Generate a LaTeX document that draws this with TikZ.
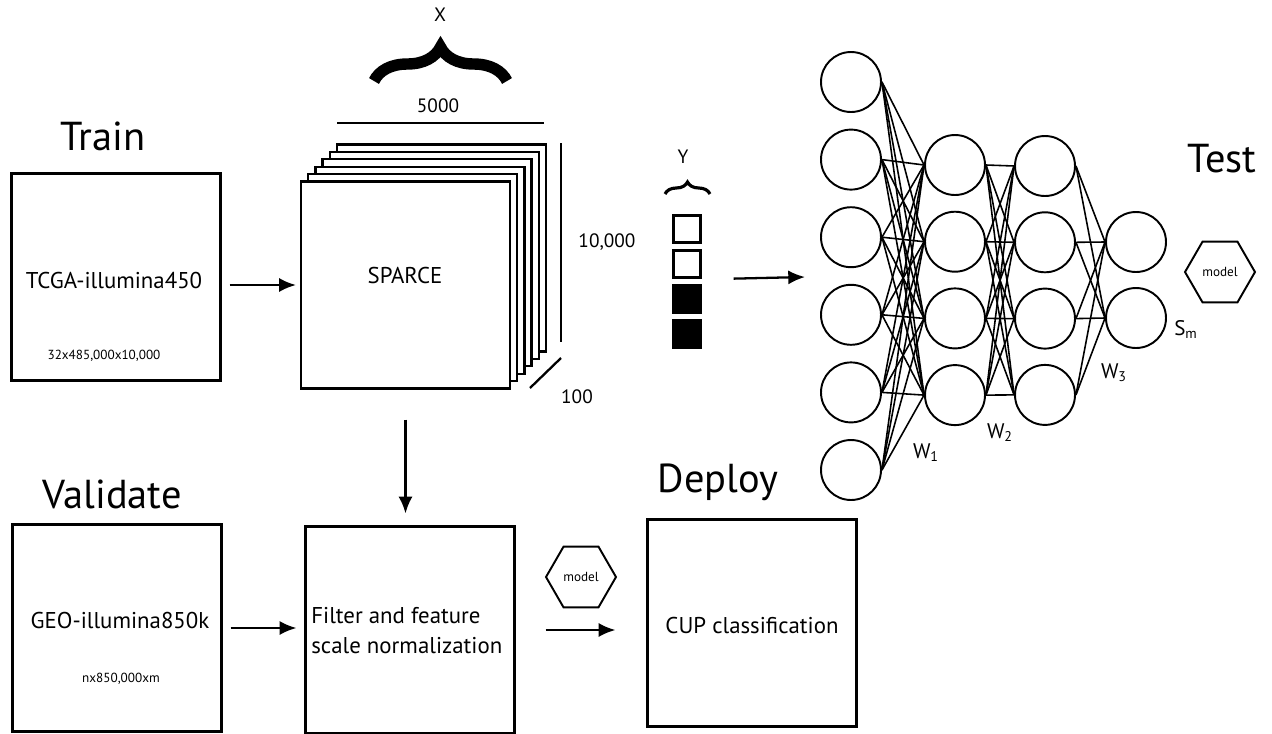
\documentclass[tikz,border=0pt]{standalone}
\usepackage{fontspec}
\setmainfont{PT Sans}
\usetikzlibrary{shapes.geometric,arrows.meta,decorations.pathreplacing}

\begin{document}
\begin{tikzpicture}[
    x=0.02cm, y=-0.02cm,
    box/.style={rectangle, draw, line width=1.3pt, fill=white, minimum width=4.18cm, minimum height=4.14cm, inner sep=0pt},
    neuron/.style={circle, draw, line width=1.1pt, fill=white, minimum size=1.2cm, inner sep=0pt},
    model/.style={regular polygon, regular polygon sides=6, draw, line width=1.1pt, minimum size=1.4cm, inner sep=0pt, font=\fontsize{7.5}{9}\selectfont},
    cell/.style={rectangle, draw, line width=1.3pt, minimum size=0.54cm, inner sep=0pt},
    headtext/.style={anchor=base, font=\fontsize{23}{26}\selectfont},
    boxtext/.style={anchor=base, inner xsep=0pt, font=\fontsize{13}{17}\selectfont},
    sizetext/.style={anchor=base, font=\fontsize{7.5}{9}\selectfont},
    dimtext/.style={anchor=base, font=\fontsize{11}{13}\selectfont},
    wtext/.style={anchor=base, font=\fontsize{12}{14}\selectfont},
    arrow/.style={-{Latex[length=9.5pt,width=8pt]}, line width=1.3pt},
    weight/.style={line width=0.9pt}
  ]
  \useasboundingbox (0,0) rectangle (1272,734);

  % train
  \node[headtext] (train label) at (103,150) {Train};
  \node[box] (train) at (116,277) {};
  \node[boxtext] (tcga) at (114,288) {TCGA-illumina450};
  \node[sizetext] (tcga size) at (104,359) {32x485,000x10,000};

  % stack of sheets
  \foreach \k in {5,...,1}
    \node[box] (sheet\k) at ({405.5+7.2*\k},{285-7.4*\k}) {};
  \node[box] (sparce) at (405.5,285) {};
  \node[boxtext] (sparce label) at (405,283) {SPARCE};
  \draw[line width=1.3pt] (337,123) -- (544,123);
  \node[dimtext] (width label) at (438,112) {5000};
  \draw[line width=1.3pt] (561,143) -- (561,342);
  \node[dimtext] (height label) at (607,247) {10,000};
  \draw[line width=1.3pt] (530,388) -- (561,358);
  \node[dimtext] (depth label) at (577,403) {100};
  \draw[decorate, decoration={brace, amplitude=0.68cm}, line width=6.5pt] (374,81) -- (507,81);
  \node[dimtext] (x label) at (440,21) {X};

  % labels
  \node[dimtext] (y label) at (683,163) {Y};
  \draw[decorate, decoration={brace, amplitude=0.24cm}, line width=1.8pt] (665,194) -- (710,194);
  \foreach \i in {1,2}
    \node[cell] (q\i) at (687,{229+35*(\i-1)}) {};
  \foreach \i in {3,4}
    \node[cell, fill=black] (q\i) at (687,{229+35*(\i-1)}) {};

  % network
  \foreach \i in {1,...,6}
    \node[neuron] (a\i) at (851,{82+77.6*(\i-1)}) {};
  \foreach \i in {1,...,4}
    \node[neuron] (b\i) at (955,{165+76.7*(\i-1)}) {};
  \foreach \i in {1,...,4}
    \node[neuron] (c\i) at (1045,{166+76.3*(\i-1)}) {};
  \node[neuron] (d1) at (1136,242) {};
  \node[neuron] (d2) at (1136,318) {};
  \foreach \i in {1,...,6}
    \foreach \j in {1,...,4}
      \draw[weight] (a\i.east) -- (b\j.west);
  \foreach \i in {1,...,4}
    \foreach \j in {1,...,4}
      \draw[weight] (b\i.east) -- (c\j.west);
  \foreach \i in {1,...,4}
    \foreach \j in {1,2}
      \draw[weight] (c\i.east) -- (d\j.west);
  \node[wtext] (w1) at (926,458) {W\textsubscript{1}};
  \node[wtext] (w2) at (1000,438) {W\textsubscript{2}};
  \node[wtext] (w3) at (1114,378) {W\textsubscript{3}};
  \node[wtext] (sm) at (1186,335) {S\textsubscript{m}};
  \node[headtext] (test label) at (1222,172) {Test};
  \node[model] (model1) at (1220,272) {model};

  % validate and deploy
  \node[headtext] (validate label) at (112,508) {Validate};
  \node[box] (validate) at (117,628) {};
  \node[boxtext] (geo) at (120,628) {GEO-illumina850k};
  \node[sizetext] (geo size) at (121,682) {nx850,000xm};
  \node[box] (filter) at (410,630) {};
  \node[boxtext, anchor=base west, align=left] (filter label) at (311,653) {Filter and feature\\scale normalization};
  \node[model] (model2) at (581,577) {model};
  \node[headtext] (deploy label) at (718,492) {Deploy};
  \node[box] (deploy) at (752,623) {};
  \node[boxtext] (cup) at (752,633) {CUP classification};

  % arrows
  \coordinate (nn in) at (805,277);
  \draw[arrow] ([xshift=0.16cm]train.east |- sparce.west) -- ([xshift=-0.08cm]sparce.west);
  \draw[arrow] ([xshift=0.64cm]q2.south east) -- (nn in);
  \draw[arrow] ([yshift=-0.6cm]sparce.south) -- ([yshift=0.24cm]sparce.south |- filter.north);
  \draw[arrow] ([xshift=0.16cm]validate.east) -- ([xshift=-0.16cm]validate.east -| filter.west);
  \draw[arrow] ([xshift=0.6cm]filter.east) -- ([xshift=-0.62cm]filter.east -| deploy.west);
\end{tikzpicture}
\end{document}
